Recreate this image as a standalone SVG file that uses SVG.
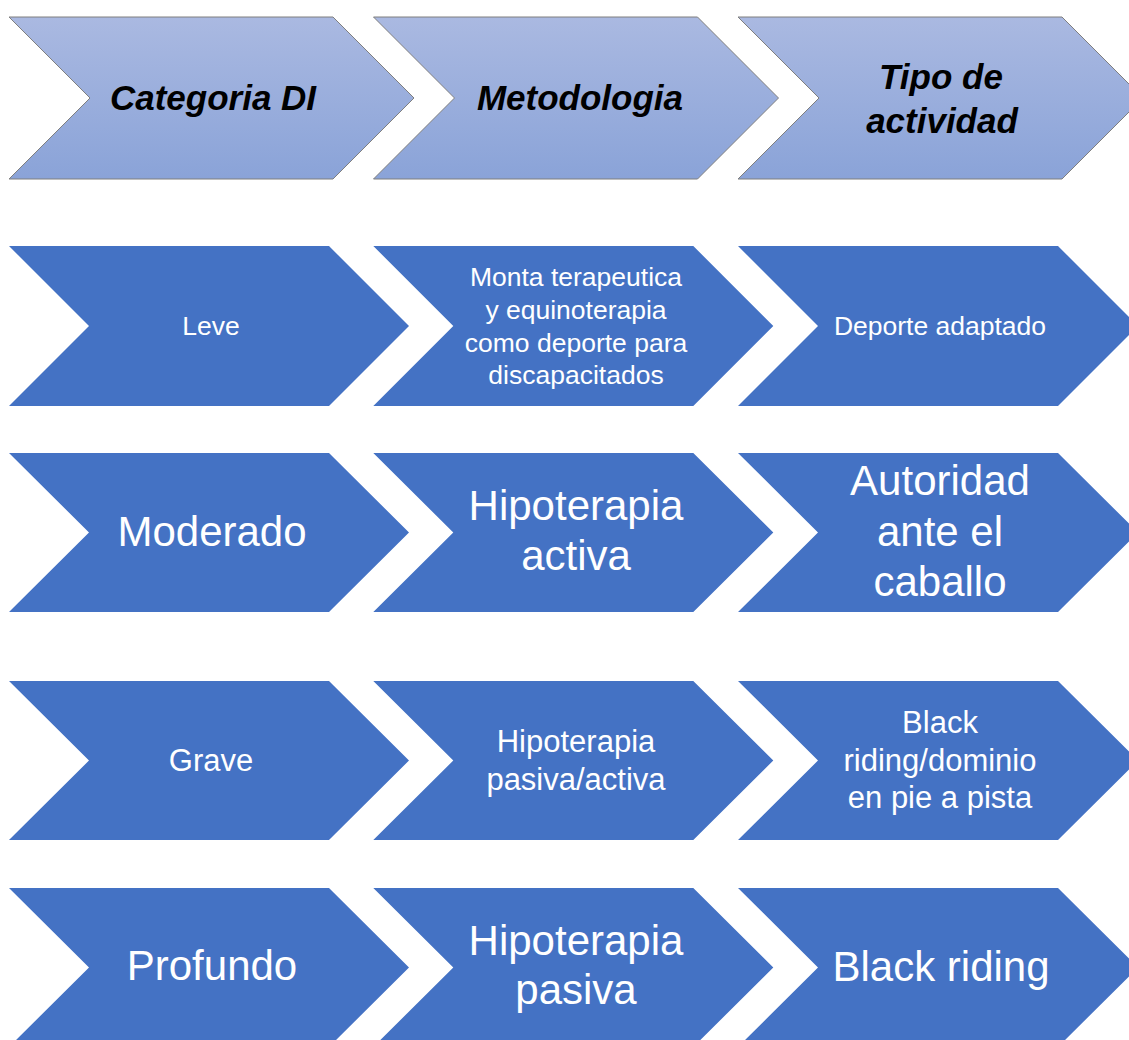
<svg xmlns="http://www.w3.org/2000/svg" width="1129" height="1040" viewBox="0 0 1129 1040">
<defs>
<linearGradient id="hdr" x1="0" y1="0" x2="0" y2="1">
<stop offset="0" stop-color="#AAB9E1"/>
<stop offset="1" stop-color="#8AA3D8"/>
</linearGradient>
<style>
.h{fill:url(#hdr);stroke:#7F7F7F;stroke-width:1}
.b{fill:#4472C4}
.ht{font-family:"Liberation Sans",Arial,sans-serif;font-weight:bold;font-style:italic;font-size:35px;fill:#000;text-anchor:middle}
.s{font-family:"Liberation Sans",Arial,sans-serif;font-size:26.5px;fill:#fff;text-anchor:middle}
.m{font-family:"Liberation Sans",Arial,sans-serif;font-size:31px;fill:#fff;text-anchor:middle}
.l{font-family:"Liberation Sans",Arial,sans-serif;font-size:42px;fill:#fff;text-anchor:middle}
</style>
</defs>
<rect width="1129" height="1040" fill="#fff"/>
<g id="header-categoria">
<polygon class="h" points="9,17 333,17 414,98 333,179 9,179 90,98"/>
<text class="ht" x="213" y="110">Categoria DI</text>
</g>
<g id="header-metodologia">
<polygon class="h" points="373.5,17 697.5,17 778.5,98 697.5,179 373.5,179 454.5,98"/>
<text class="ht" x="580" y="110">Metodologia</text>
</g>
<g id="header-tipo">
<polygon class="h" points="738,17 1062,17 1143,98 1062,179 738,179 819,98"/>
<text class="ht" x="941" y="89">Tipo de</text>
<text class="ht" x="942" y="133">actividad</text>
</g>

<g id="leve">
<polygon class="b" points="9,246 329,246 409,326 329,406 9,406 89,326"/>
<text class="s" x="211" y="335">Leve</text>
</g>
<g id="monta">
<polygon class="b" points="373.3,246 693.3,246 773.3,326 693.3,406 373.3,406 453.3,326"/>
<text class="s" x="576" y="286">Monta terapeutica</text>
<text class="s" x="576" y="319">y equinoterapia</text>
<text class="s" x="576" y="352">como deporte para</text>
<text class="s" x="576" y="384">discapacitados</text>
</g>
<g id="deporte">
<polygon class="b" points="738,246 1058,246 1138,326 1058,406 738,406 818,326"/>
<text class="s" x="940" y="335">Deporte adaptado</text>
</g>

<g id="moderado">
<polygon class="b" points="9,453 329,453 409,532.5 329,612 9,612 89,532.5"/>
<text class="l" x="212" y="546">Moderado</text>
</g>
<g id="hipo-activa">
<polygon class="b" points="373.3,453 693.3,453 773.3,532.5 693.3,612 373.3,612 453.3,532.5"/>
<text class="l" x="576" y="520">Hipoterapia</text>
<text class="l" x="576" y="570">activa</text>
</g>
<g id="autoridad">
<polygon class="b" points="738,453 1058,453 1138,532.5 1058,612 738,612 818,532.5"/>
<text class="l" x="940" y="495">Autoridad</text>
<text class="l" x="940" y="546">ante el</text>
<text class="l" x="940" y="596">caballo</text>
</g>

<g id="grave">
<polygon class="b" points="9,681 329,681 409,760.5 329,840 9,840 89,760.5"/>
<text class="m" x="211" y="771">Grave</text>
</g>
<g id="hipo-pasiva-activa">
<polygon class="b" points="373.3,681 693.3,681 773.3,760.5 693.3,840 373.3,840 453.3,760.5"/>
<text class="m" x="576" y="752">Hipoterapia</text>
<text class="m" x="576" y="790">pasiva/activa</text>
</g>
<g id="black-dominio">
<polygon class="b" points="738,681 1058,681 1138,760.5 1058,840 738,840 818,760.5"/>
<text class="m" x="940" y="733">Black</text>
<text class="m" x="940" y="771">riding/dominio</text>
<text class="m" x="940" y="808">en pie a pista</text>
</g>

<g id="profundo">
<polygon class="b" points="9,888 329,888 409,967.5 329,1047 9,1047 89,967.5"/>
<text class="l" x="212" y="980">Profundo</text>
</g>
<g id="hipo-pasiva">
<polygon class="b" points="373.3,888 693.3,888 773.3,967.5 693.3,1047 373.3,1047 453.3,967.5"/>
<text class="l" x="576" y="955">Hipoterapia</text>
<text class="l" x="576" y="1004">pasiva</text>
</g>
<g id="black-riding">
<polygon class="b" points="738,888 1058,888 1138,967.5 1058,1047 738,1047 818,967.5"/>
<text class="l" x="941" y="981">Black riding</text>
</g>
<g id="connectors"/>
</svg>
